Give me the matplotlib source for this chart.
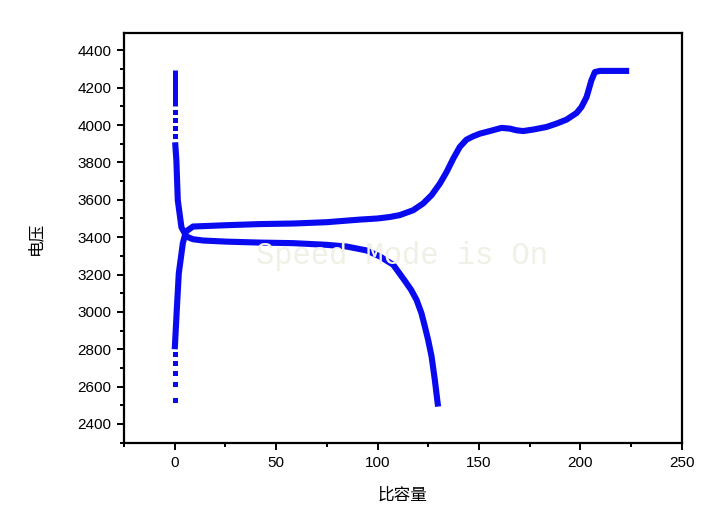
import matplotlib
matplotlib.use("Agg")
import matplotlib.pyplot as plt
from matplotlib.ticker import MultipleLocator

# charge curve (solid part): specific capacity vs voltage
charge_x = [0, 1, 2, 4, 5.5, 9, 25.5, 41.9, 58.3, 74.8, 91.2, 100, 106, 110.9,
            117.5, 122.4, 126.6, 130.7, 134, 137.3, 140.5, 143.8, 147.1, 150.4,
            155.3, 161.1, 165.2, 168.5, 171.7, 176.7, 183.3, 188.2, 193.1,
            198.1, 200.5, 203, 205.4, 207.1, 209.6, 224]
charge_v = [2800, 3010, 3207, 3368, 3430, 3457, 3464, 3470, 3473, 3480, 3494,
            3500, 3508, 3518, 3544, 3580, 3625, 3687, 3749, 3821, 3883, 3922,
            3940, 3954, 3968, 3985, 3981, 3972, 3968, 3976, 3990, 4008, 4029,
            4065, 4097, 4150, 4240, 4284, 4290, 4290]
# sparse points at start of charge
charge_dot_x = [0, 0, 0, 0, 0]
charge_dot_v = [2528, 2614, 2673, 2727, 2775]

# discharge curve
dis_top_x = [0, 0]
dis_top_v = [4293, 4100]
dis_dot_x = [0, 0, 0, 0]
dis_dot_v = [4068, 4026, 3983, 3940]
dis_x = [0.2, 0.8, 1.5, 3.3, 5.8, 9, 14, 25.5, 41.9, 58.3, 74.8, 84.7, 94.5,
         101.1, 107.7, 110.5, 113.5, 116.5, 119.2, 121.6, 123.3, 124.9, 126.6,
         128.2, 129.8]
dis_v = [3908, 3812, 3598, 3453, 3403, 3389, 3382, 3376, 3371, 3368, 3359,
         3350, 3329, 3297, 3252, 3210, 3165, 3118, 3064, 2993, 2921, 2850,
         2761, 2636, 2493]

blue = "#0a0af0"
lw = 4.4

fig = plt.figure(figsize=(7.27, 5.17), dpi=100)
ax = fig.add_axes([0.1706, 0.1431, 0.938 - 0.1706, 0.9362 - 0.1431])

ax.plot(charge_x, charge_v, color=blue, lw=lw, solid_capstyle="butt",
        solid_joinstyle="round")
ax.plot(charge_dot_x, charge_dot_v, "s", color=blue, ms=3.6, mew=0)
ax.plot(dis_top_x, dis_top_v, color=blue, lw=3.6, solid_capstyle="butt")
ax.plot(dis_dot_x, dis_dot_v, "s", color=blue, ms=3.6, mew=0)
ax.plot(dis_x, dis_v, color=blue, lw=lw, solid_capstyle="butt",
        solid_joinstyle="round")

ax.set_xlim(-25, 250)
ax.set_ylim(2298, 4493)
ax.xaxis.set_major_locator(MultipleLocator(50))
ax.xaxis.set_minor_locator(MultipleLocator(25))
ax.yaxis.set_major_locator(MultipleLocator(200))
ax.yaxis.set_minor_locator(MultipleLocator(100))

for s in ax.spines.values():
    s.set_linewidth(1.6)
ax.tick_params(which="major", direction="out", length=5, width=1.4,
               labelsize=11, top=False, right=False, pad=4)
ax.tick_params(which="minor", direction="out", length=3, width=1.4,
               top=False, right=False)
for lab in ax.get_xticklabels() + ax.get_yticklabels():
    lab.set_fontfamily("Liberation Sans")

ax.set_xlabel("比容量", fontsize=12, family=["Noto Sans CJK SC", "DejaVu Sans"],
              labelpad=12)
ax.set_ylabel("电压", fontsize=12, family=["Noto Sans CJK SC", "DejaVu Sans"],
              labelpad=24)

# watermark
fig.text(0.553, 1 - 256 / 517, "Speed Mode is On", ha="center", va="center",
         fontsize=22, family="Liberation Mono", color="#f0f0e6")

fig.savefig("out.png", dpi=100)
